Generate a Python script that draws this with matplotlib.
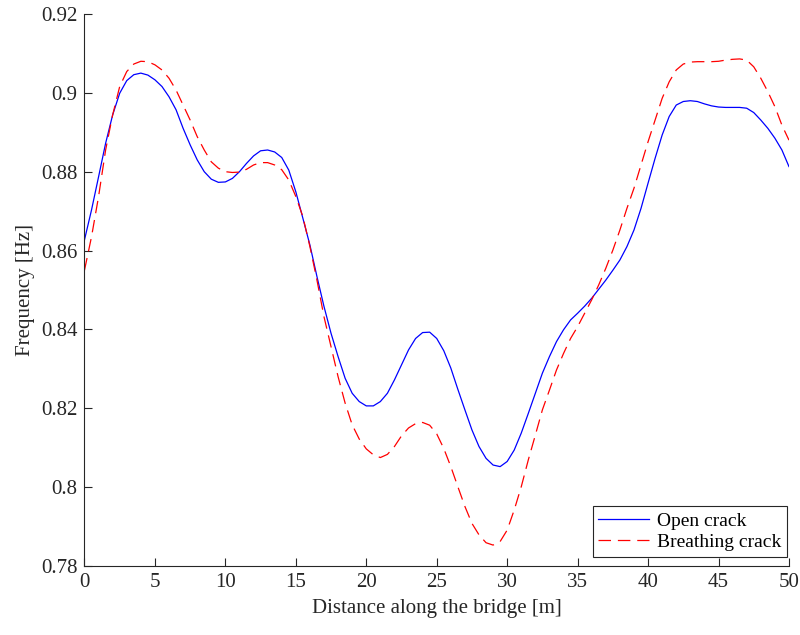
import numpy as np
import matplotlib
matplotlib.use("Agg")
import matplotlib.pyplot as plt

# distance along bridge [m], read every half metre
distance = np.arange(0, 50.5, 0.5)

# open crack frequency [Hz]
open_crack = [
    0.8627, 0.8703, 0.8787, 0.8872, 0.8944, 0.8999, 0.9031, 0.9046, 0.9050, 0.9045,
    0.9033, 0.9016, 0.8990, 0.8957, 0.8910, 0.8868, 0.8830, 0.8800, 0.8781, 0.8773,
    0.8774, 0.8783, 0.8800, 0.8821, 0.8840, 0.8853, 0.8855, 0.8850, 0.8836, 0.8804,
    0.8749, 0.8682, 0.8614, 0.8534, 0.8458, 0.8390, 0.8331, 0.8276, 0.8238, 0.8217,
    0.8206, 0.8206, 0.8217, 0.8238, 0.8272, 0.8310, 0.8348, 0.8377, 0.8392, 0.8393,
    0.8377, 0.8346, 0.8302, 0.8248, 0.8196, 0.8145, 0.8103, 0.8073, 0.8056, 0.8052,
    0.8065, 0.8094, 0.8137, 0.8187, 0.8238, 0.8289, 0.8331, 0.8369, 0.8399, 0.8424,
    0.8441, 0.8459, 0.8479, 0.8502, 0.8525, 0.8550, 0.8576, 0.8610, 0.8652, 0.8707,
    0.8771, 0.8834, 0.8893, 0.8940, 0.8969, 0.8978, 0.8980, 0.8978, 0.8972, 0.8967,
    0.8964, 0.8963, 0.8963, 0.8963, 0.8961, 0.8950, 0.8931, 0.8910, 0.8885, 0.8855,
    0.8813,
]

# breathing crack frequency [Hz]
breathing_crack = [
    0.8550, 0.8635, 0.8737, 0.8855, 0.8944, 0.9016, 0.9054, 0.9073, 0.9080, 0.9079,
    0.9071, 0.9058, 0.9037, 0.9007, 0.8969, 0.8931, 0.8889, 0.8855, 0.8825, 0.8809,
    0.8800, 0.8798, 0.8799, 0.8806, 0.8817, 0.8823, 0.8823, 0.8817, 0.8805, 0.8779,
    0.8737, 0.8686, 0.8610, 0.8525, 0.8432, 0.8356, 0.8280, 0.8213, 0.8158, 0.8122,
    0.8097, 0.8082, 0.8075, 0.8083, 0.8103, 0.8130, 0.8150, 0.8161, 0.8164, 0.8157,
    0.8135, 0.8098, 0.8052, 0.8001, 0.7951, 0.7908, 0.7879, 0.7859, 0.7853, 0.7862,
    0.7891, 0.7942, 0.8001, 0.8069, 0.8132, 0.8196, 0.8246, 0.8297, 0.8339, 0.8377,
    0.8407, 0.8441, 0.8475, 0.8513, 0.8555, 0.8601, 0.8652, 0.8707, 0.8758, 0.8817,
    0.8876, 0.8931, 0.8986, 0.9028, 0.9058, 0.9073, 0.9078, 0.9079, 0.9079, 0.9079,
    0.9080, 0.9083, 0.9085, 0.9086, 0.9083, 0.9066, 0.9037, 0.9003, 0.8965, 0.8918,
    0.8880,
]

x_ticks = [0, 5, 10, 15, 20, 25, 30, 35, 40, 45, 50]
y_ticks = [0.78, 0.80, 0.82, 0.84, 0.86, 0.88, 0.90, 0.92]
y_tick_labels = ["0.78", "0.8", "0.82", "0.84", "0.86", "0.88", "0.9", "0.92"]

plt.rcParams['font.family'] = ['Liberation Serif', 'DejaVu Serif']

fig = plt.figure(figsize=(8, 6.35), dpi=100)
ax = fig.add_axes([0.1056, 0.1087, 0.8806, 0.8693])

ax.plot(distance, open_crack, color='#0000ff', lw=0.9, label='Open crack')
red, = ax.plot(distance, breathing_crack, color='#ff0000', lw=0.9, label='Breathing crack')
red.set_dashes((10, 5.5))

ax.set_xlim(0, 50)
ax.set_ylim(0.78, 0.92)
ax.set_xticks(x_ticks)
ax.set_yticks(y_ticks)
ax.set_yticklabels(y_tick_labels)

spine_col = '#262626'
for side in ['top', 'right']:
    ax.spines[side].set_visible(False)
for side in ['left', 'bottom']:
    ax.spines[side].set_color(spine_col)
    ax.spines[side].set_linewidth(0.8)
ax.tick_params(direction='in', length=6, width=0.8, color=spine_col,
               labelsize=15, labelcolor=spine_col, pad=5)

ax.set_xlabel('Distance along the bridge [m]', fontsize=15, color=spine_col, labelpad=5)
ax.set_ylabel('Frequency [Hz]', fontsize=15, color=spine_col, labelpad=4)

# legend box sits just inside the lower right corner
leg = ax.legend(loc='lower right', bbox_to_anchor=(787 / 800, 78 / 635),
                bbox_transform=fig.transFigure, borderaxespad=0,
                fontsize=14, fancybox=False, framealpha=1, edgecolor=spine_col,
                handlelength=2.6, handletextpad=0.4, labelspacing=0.2, borderpad=0.3)
leg.get_frame().set_linewidth(0.8)

fig.savefig('out.png', dpi=100)
